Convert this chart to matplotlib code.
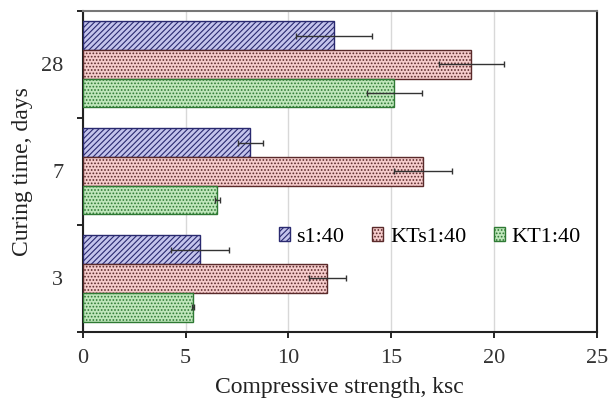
import matplotlib
matplotlib.use("Agg")
import matplotlib.pyplot as plt
import numpy as np

plt.rcParams['font.family'] = ['Liberation Serif', 'DejaVu Serif']
plt.rcParams['hatch.linewidth'] = 0.8

categories = ['3', '7', '28']
series_names = ['s1:40', 'KTs1:40', 'KT1:40']
s140 = [5.7, 8.15, 12.2]
s140_err = [1.4, 0.6, 1.85]
kts140 = [11.9, 16.55, 18.9]
kts140_err = [0.9, 1.4, 1.6]
kt140 = [5.35, 6.55, 15.15]
kt140_err = [0.05, 0.1, 1.35]

fig = plt.figure(figsize=(6.09, 4.01), dpi=100)
ax = fig.add_axes([0.136, 0.172, 0.844, 0.801])

y = np.arange(len(categories))
h = 0.268
styles = [
    dict(facecolor='#c4c4ec', edgecolor='#2a2a70', hatch='//////'),
    dict(facecolor='#f6cccc', edgecolor='#5a2a2a', hatch='.....'),
    dict(facecolor='#bfe6bb', edgecolor='#2f7a34', hatch='.....'),
]
vals = [s140, kts140, kt140]
errs = [s140_err, kts140_err, kt140_err]
offs = [h, 0, -h]
handles = []
for v, e, o, st, name in zip(vals, errs, offs, styles, series_names):
    b = ax.barh(y + o, v, height=h, linewidth=1.0, label=name,
                xerr=e, error_kw=dict(ecolor='#333333', elinewidth=1.0, capsize=2.5, capthick=1.0),
                zorder=3, **st)
    handles.append(b)

ax.set_xlim(0, 25)
ax.set_ylim(-0.5, 2.5)
ax.set_xticks([0, 5, 10, 15, 20, 25])
ax.xaxis.grid(True, color='#d8d8d8', linewidth=1.0, zorder=0)
ax.set_axisbelow(True)

ax.set_yticks([-0.5, 0.5, 1.5, 2.5])
ax.set_yticklabels([])
ax.set_yticks(y, minor=True)
ax.set_yticklabels(categories, minor=True)
ax.tick_params(axis='y', which='minor', length=0, pad=14, labelsize=16, labelcolor='#333333')
ax.tick_params(axis='y', which='major', length=4, width=1.2, direction='out')
ax.tick_params(axis='x', which='major', length=4, width=1.2, direction='out', labelsize=16, pad=8,
               labelcolor='#333333')

for sp in ['left', 'bottom', 'right']:
    ax.spines[sp].set_linewidth(1.5)
    ax.spines[sp].set_color('#222222')
ax.spines['top'].set_linewidth(1.5)
ax.spines['top'].set_color('#777777')

ax.set_xlabel('Compressive strength, ksc', fontsize=17, labelpad=7, color='#222222')
ax.set_ylabel('Curing time, days', fontsize=17, labelpad=6, color='#222222')

leg = ax.legend(handles=handles, labels=series_names, ncol=3, frameon=False,
                loc='center', bbox_to_anchor=(0.675, 0.295), fontsize=16,
                handlelength=0.5, handleheight=0.55, handletextpad=0.3, columnspacing=1.25)

fig.savefig('out.png', dpi=100)
